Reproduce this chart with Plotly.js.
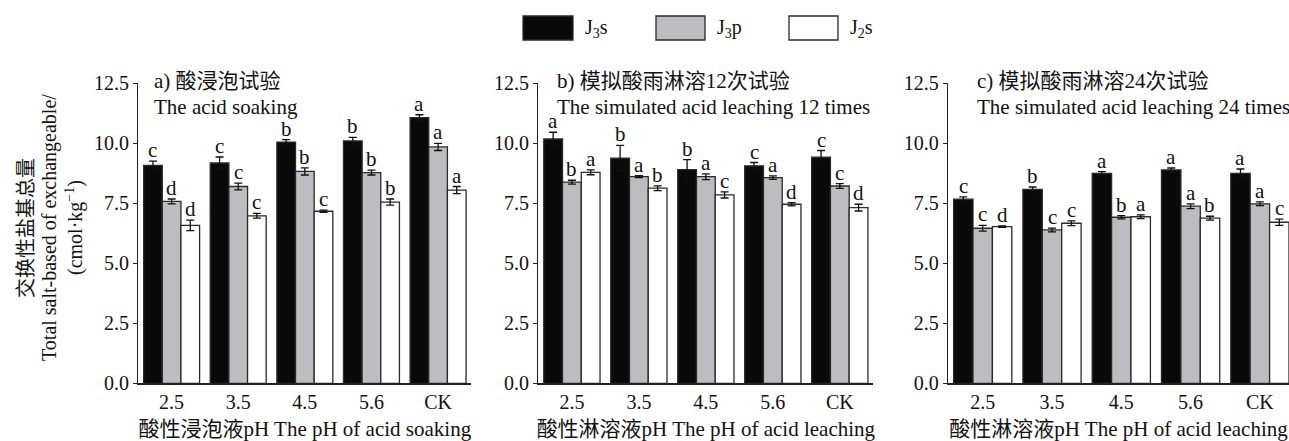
<!DOCTYPE html>
<html>
<head>
<meta charset="utf-8">
<script src="https://cdn.plot.ly/plotly-3.0.1.min.js"></script>
<style>
  html, body { margin: 0; padding: 0; background: #fff; }
  #chart { width: 1289px; height: 441px; }
</style>
</head>
<body>
<div id="chart"></div>
<script>
// Treatment categories (pH of the acid solution, CK = control)
const categories = ['2.5', '3.5', '4.5', '5.6', 'CK'];
const seriesNames = ['J<sub>3</sub>s', 'J<sub>3</sub>p', 'J<sub>2</sub>s'];

// a) acid soaking
const soakJ3s = [9.08, 9.18, 10.05, 10.10, 11.07];
const soakJ3sErr = [0.18, 0.25, 0.10, 0.15, 0.12];
const soakJ3sSig = ['c', 'c', 'b', 'b', 'a'];
const soakJ3p = [7.58, 8.20, 8.83, 8.78, 9.85];
const soakJ3pErr = [0.10, 0.14, 0.15, 0.10, 0.15];
const soakJ3pSig = ['d', 'c', 'b', 'b', 'a'];
const soakJ2s = [6.58, 6.98, 7.17, 7.55, 8.05];
const soakJ2sErr = [0.22, 0.10, 0.05, 0.13, 0.15];
const soakJ2sSig = ['d', 'c', 'c', 'b', 'a'];

// b) simulated acid rain leaching, 12 times
const leach12J3s = [10.18, 9.38, 8.90, 9.06, 9.42];
const leach12J3sErr = [0.28, 0.53, 0.42, 0.14, 0.28];
const leach12J3sSig = ['a', 'b', 'b', 'c', 'c'];
const leach12J3p = [8.38, 8.61, 8.61, 8.57, 8.22];
const leach12J3pErr = [0.08, 0.04, 0.12, 0.07, 0.10];
const leach12J3pSig = ['b', 'a', 'a', 'a', 'c'];
const leach12J2s = [8.79, 8.13, 7.85, 7.46, 7.32];
const leach12J2sErr = [0.10, 0.10, 0.13, 0.07, 0.14];
const leach12J2sSig = ['a', 'b', 'c', 'd', 'd'];

// c) simulated acid rain leaching, 24 times
const leach24J3s = [7.67, 8.08, 8.75, 8.89, 8.75];
const leach24J3sErr = [0.10, 0.10, 0.07, 0.08, 0.18];
const leach24J3sSig = ['c', 'b', 'a', 'a', 'a'];
const leach24J3p = [6.46, 6.39, 6.92, 7.38, 7.48];
const leach24J3pErr = [0.12, 0.08, 0.07, 0.10, 0.08];
const leach24J3pSig = ['c', 'c', 'b', 'a', 'a'];
const leach24J2s = [6.53, 6.67, 6.94, 6.88, 6.71];
const leach24J2sErr = [0.03, 0.10, 0.08, 0.08, 0.13];
const leach24J2sSig = ['d', 'c', 'a', 'b', 'c'];

const yTicks = [0, 2.5, 5, 7.5, 10, 12.5];

const FONT = 'Liberation Serif, "Times New Roman", "Noto Sans CJK SC", serif';
const INK = '#111';
const FILLS = ['#0a0a0a', '#bdbcc1', '#ffffff'];
const BARGAP = 0.16;
const BAR_W = (1 - BARGAP) / 3;

const panels = [
  { ax: '', series: [[soakJ3s, soakJ3sErr, soakJ3sSig], [soakJ3p, soakJ3pErr, soakJ3pSig], [soakJ2s, soakJ2sErr, soakJ2sSig]],
    domain: [0.1073, 0.3657], range: [-0.5, 4.5],
    t1: 'a) 酸浸泡试验', t2: 'The acid soaking', tx: 152,
    xtitle: '酸性浸泡液pH The pH of acid soaking' },
  { ax: '2', series: [[leach12J3s, leach12J3sErr, leach12J3sSig], [leach12J3p, leach12J3pErr, leach12J3pSig], [leach12J2s, leach12J2sErr, leach12J2sSig]],
    domain: [0.4177, 0.6775], range: [-0.5, 4.5],
    t1: 'b) 模拟酸雨淋溶12次试验', t2: 'The simulated acid leaching 12 times', tx: 555,
    xtitle: '酸性淋溶液pH The pH of acid leaching' },
  { ax: '3', series: [[leach24J3s, leach24J3sErr, leach24J3sSig], [leach24J3p, leach24J3pErr, leach24J3pSig], [leach24J2s, leach24J2sErr, leach24J2sSig]],
    domain: [0.7355, 1.0], range: [-0.5, 4.42],
    t1: 'c) 模拟酸雨淋溶24次试验', t2: 'The simulated acid leaching 24 times', tx: 975,
    xtitle: '酸性淋溶液pH The pH of acid leaching' }
];

const xIdx = categories.map((c, i) => i);
const traces = [];
const annotations = [];
const layout = {
  width: 1289, height: 441,
  margin: { l: 0, r: 0, t: 0, b: 0 },
  paper_bgcolor: '#fff', plot_bgcolor: '#fff',
  barmode: 'group', bargap: BARGAP, bargroupgap: 0,
  showlegend: false,
  font: { family: FONT, size: 20, color: INK },
  shapes: [],
  annotations: annotations
};

const yDomain = [0.1308, 0.8111];

panels.forEach((p) => {
  const xa = 'x' + p.ax, ya = 'y' + p.ax;
  p.series.forEach((s, si) => {
    traces.push({
      type: 'bar', x: xIdx, y: s[0], xaxis: xa, yaxis: ya,
      name: seriesNames[si],
      marker: { color: FILLS[si], line: { color: '#2a2a2a', width: 1.3 } },
      error_y: { type: 'data', array: s[1], visible: true, color: INK, thickness: 1.3, width: 4 },
      hoverinfo: 'skip'
    });
    // significance letters above each error bar
    s[2].forEach((letter, ci) => {
      annotations.push({
        xref: xa, yref: ya, x: ci + (si - 1) * BAR_W, y: s[0][ci] + s[1][ci],
        text: letter, showarrow: false, yanchor: 'bottom', xanchor: 'center',
        yshift: -3, font: { family: FONT, size: 21, color: INK }
      });
    });
  });
  layout['xaxis' + p.ax] = {
    domain: p.domain, anchor: ya, range: p.range,
    tickvals: xIdx, ticktext: categories, ticks: '',
    showline: true, linecolor: '#222', linewidth: 1.3,
    showgrid: false, zeroline: false,
    tickfont: { family: FONT, size: 20, color: INK },
    title: { text: p.xtitle, standoff: 10, font: { family: FONT, size: 21, color: INK } }
  };
  layout['yaxis' + p.ax] = {
    domain: yDomain, anchor: xa, range: [0, 12.5],
    tickvals: yTicks, tickformat: '.1f', ticks: 'outside', ticklen: 4,
    tickcolor: '#222', tickwidth: 1.3,
    showline: true, linecolor: '#222', linewidth: 1.3,
    showgrid: false, zeroline: false,
    tickfont: { family: FONT, size: 20, color: INK }
  };
  // panel headings
  annotations.push({
    xref: 'paper', yref: 'paper', x: p.tx / 1289, y: 1 - 81 / 441,
    xanchor: 'left', yanchor: 'middle', showarrow: false, text: p.t1,
    font: { family: FONT, size: 21, color: INK }
  });
  annotations.push({
    xref: 'paper', yref: 'paper', x: p.tx / 1289, y: 1 - 107 / 441,
    xanchor: 'left', yanchor: 'middle', showarrow: false, text: p.t2,
    font: { family: FONT, size: 21, color: INK }
  });
});

// y-axis title, three stacked rotated lines
const yTitleLines = ['交换性盐基总量', 'Total salt-based of exchangeable/', '(cmol·kg<sup>−1</sup>)'];
const yTitleX = [26, 49, 74];
yTitleLines.forEach((t, i) => {
  annotations.push({
    xref: 'paper', yref: 'paper', x: yTitleX[i] / 1289, y: 1 - 228 / 441,
    xanchor: 'center', yanchor: 'middle', textangle: -90, showarrow: false, text: t,
    font: { family: FONT, size: 20, color: INK }
  });
});

// legend: swatches and labels across the top
const legendBoxes = [[523, 573], [656, 705], [789, 838]];
legendBoxes.forEach((b, i) => {
  layout.shapes.push({
    type: 'rect', xref: 'paper', yref: 'paper',
    x0: b[0] / 1289, x1: b[1] / 1289, y0: 1 - 40 / 441, y1: 1 - 16 / 441,
    fillcolor: FILLS[i], line: { color: '#2a2a2a', width: 1.3 }
  });
  annotations.push({
    xref: 'paper', yref: 'paper', x: (b[1] + 10) / 1289, y: 1 - 28 / 441,
    xanchor: 'left', yanchor: 'middle', showarrow: false, text: seriesNames[i],
    font: { family: FONT, size: 20, color: INK }
  });
});

Plotly.newPlot('chart', traces, layout, { staticPlot: true, displayModeBar: false });
</script>
</body>
</html>
